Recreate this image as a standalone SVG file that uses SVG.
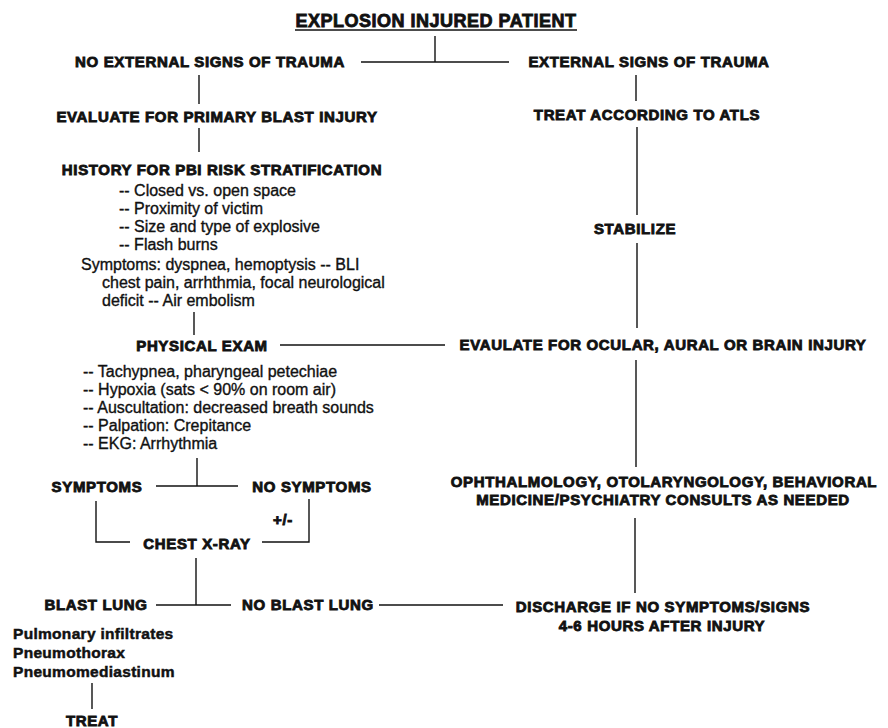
<svg xmlns="http://www.w3.org/2000/svg" width="888" height="728" viewBox="0 0 888 728">
<style>
.h{font-family:"Liberation Sans",Arial,sans-serif;font-weight:bold;font-size:15px;letter-spacing:0.65px;fill:#111;stroke:#111;stroke-width:0.85px;text-anchor:middle}
.t{font-family:"Liberation Sans",Arial,sans-serif;font-size:16px;fill:#111;stroke:#111;stroke-width:0.35px}
.b{font-family:"Liberation Sans",Arial,sans-serif;font-weight:bold;font-size:15.5px;letter-spacing:0.3px;fill:#111;stroke:#111;stroke-width:0.5px}
.c{stroke:#111;stroke-width:1.4;fill:none}
</style>
<rect width="888" height="728" fill="#fff"/>
<g id="connectors" class="c">
<line x1="435" y1="36" x2="435" y2="62"/>
<line x1="361" y1="62" x2="509" y2="62"/>
<line x1="199" y1="75" x2="199" y2="104"/>
<line x1="199" y1="128" x2="199" y2="152"/>
<line x1="636" y1="75" x2="636" y2="101"/>
<line x1="637" y1="127" x2="637" y2="215"/>
<line x1="637" y1="243" x2="637" y2="328"/>
<line x1="194" y1="312" x2="194" y2="335"/>
<line x1="280" y1="345" x2="445" y2="345"/>
<line x1="636" y1="360" x2="636" y2="467"/>
<line x1="635" y1="518" x2="635" y2="593"/>
<line x1="197" y1="458" x2="197" y2="486"/>
<line x1="156" y1="486" x2="238" y2="486"/>
<polyline points="96,501 96,542 130,542"/>
<polyline points="262,542 309,542 309,499"/>
<line x1="196" y1="558" x2="196" y2="605"/>
<line x1="156" y1="605" x2="231" y2="605"/>
<line x1="379" y1="605" x2="503" y2="605"/>
<line x1="92" y1="683" x2="92" y2="709"/>
</g>
<g id="title">
<text class="h" x="436" y="27" style="font-size:18px;letter-spacing:0.5px">EXPLOSION INJURED PATIENT</text>
<line x1="295" y1="30" x2="577" y2="30" stroke="#111" stroke-width="1.6"/>
</g>
<g id="no-external"><text class="h" x="210" y="67">NO EXTERNAL SIGNS OF TRAUMA</text></g>
<g id="external"><text class="h" x="649" y="67">EXTERNAL SIGNS OF TRAUMA</text></g>
<g id="evaluate-pbi"><text class="h" x="217" y="122">EVALUATE FOR PRIMARY BLAST INJURY</text></g>
<g id="atls"><text class="h" x="647" y="120">TREAT ACCORDING TO ATLS</text></g>
<g id="history">
<text class="h" x="222" y="175">HISTORY FOR PBI RISK STRATIFICATION</text>
<text class="t" x="119" y="196">-- Closed vs. open space</text>
<text class="t" x="119" y="214">-- Proximity of victim</text>
<text class="t" x="119" y="232">-- Size and type of explosive</text>
<text class="t" x="119" y="250">-- Flash burns</text>
<text class="t" x="81" y="270">Symptoms: dyspnea, hemoptysis -- BLI</text>
<text class="t" x="102" y="288">chest pain, arrhthmia, focal neurological</text>
<text class="t" x="102" y="306">deficit -- Air embolism</text>
</g>
<g id="stabilize"><text class="h" x="635" y="234">STABILIZE</text></g>
<g id="physical-exam">
<text class="h" x="202" y="351">PHYSICAL EXAM</text>
<text class="t" x="83" y="377">-- Tachypnea, pharyngeal petechiae</text>
<text class="t" x="83" y="395">-- Hypoxia (sats &lt; 90% on room air)</text>
<text class="t" x="83" y="413">-- Auscultation: decreased breath sounds</text>
<text class="t" x="83" y="431">-- Palpation: Crepitance</text>
<text class="t" x="83" y="449">-- EKG: Arrhythmia</text>
</g>
<g id="evaluate-ocular"><text class="h" x="663" y="350">EVAULATE FOR OCULAR, AURAL OR BRAIN INJURY</text></g>
<g id="consults">
<text class="h" x="664" y="487">OPHTHALMOLOGY, OTOLARYNGOLOGY, BEHAVIORAL</text>
<text class="h" x="663" y="505">MEDICINE/PSYCHIATRY CONSULTS AS NEEDED</text>
</g>
<g id="symptoms"><text class="h" x="97" y="492">SYMPTOMS</text></g>
<g id="no-symptoms"><text class="h" x="312" y="492">NO SYMPTOMS</text></g>
<g id="plus-minus"><text class="h" x="283" y="525">+/-</text></g>
<g id="chest-xray"><text class="h" x="197" y="549">CHEST X-RAY</text></g>
<g id="blast-lung"><text class="h" x="96" y="610">BLAST LUNG</text></g>
<g id="no-blast-lung"><text class="h" x="308" y="610">NO BLAST LUNG</text></g>
<g id="discharge">
<text class="h" x="663" y="612">DISCHARGE IF NO SYMPTOMS/SIGNS</text>
<text class="h" x="662" y="631">4-6 HOURS AFTER INJURY</text>
</g>
<g id="findings">
<text class="b" x="13" y="639">Pulmonary infiltrates</text>
<text class="b" x="13" y="658">Pneumothorax</text>
<text class="b" x="13" y="677">Pneumomediastinum</text>
</g>
<g id="treat"><text class="h" x="92" y="726">TREAT</text></g>
</svg>
